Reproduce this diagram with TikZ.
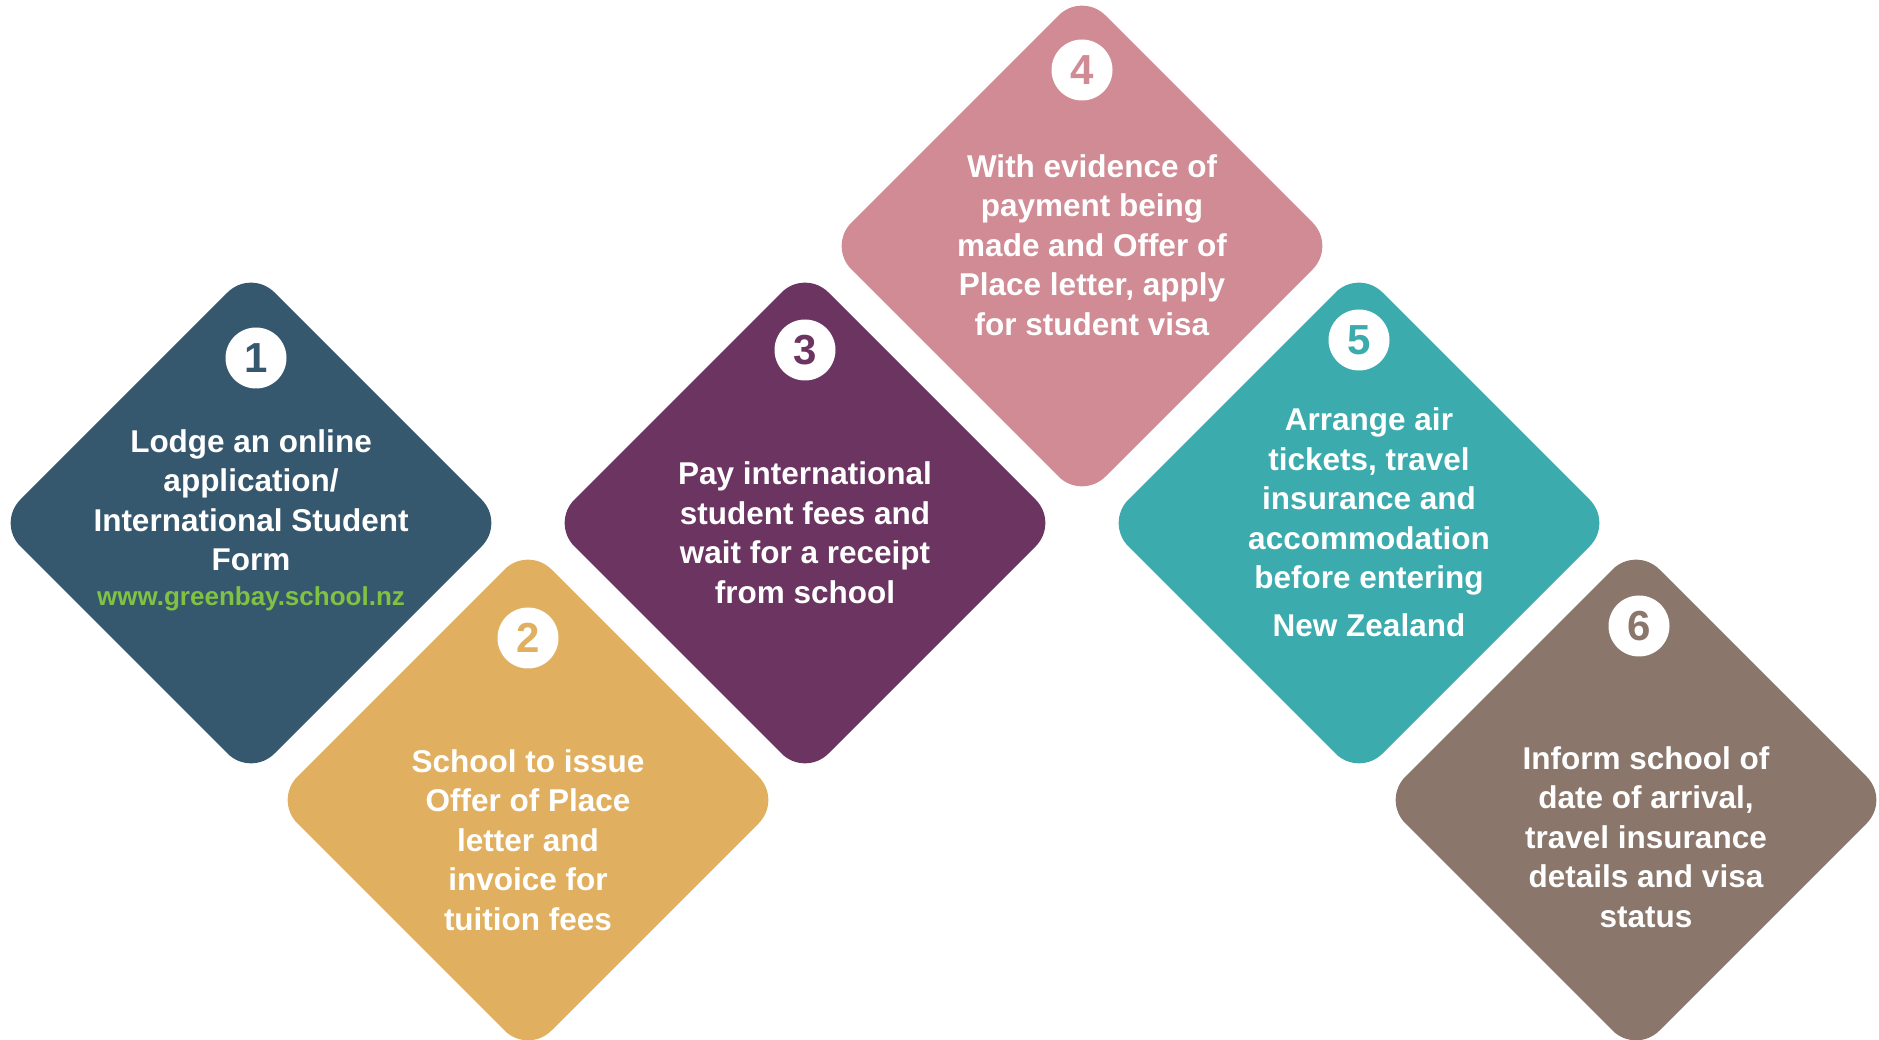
\documentclass[tikz,border=0pt]{standalone}
\usepackage{fontspec}
\setmainfont{Liberation Sans}
\usetikzlibrary{shapes.geometric, positioning}

\definecolor{stepone}{RGB}{54,88,110}
\definecolor{steptwo}{RGB}{224,176,96}
\definecolor{stepthree}{RGB}{107,52,97}
\definecolor{stepfour}{RGB}{208,139,148}
\definecolor{stepfive}{RGB}{59,171,173}
\definecolor{stepsix}{RGB}{138,118,107}
\definecolor{urlgreen}{RGB}{128,194,66}

\begin{document}
\begin{tikzpicture}[x=1pt, y=1pt,
  stepbox/.style={diamond, aspect=1, minimum width=508pt, minimum height=508pt,
    inner sep=0pt, outer sep=0pt, rounded corners=33pt, fill=#1},
  numcircle/.style={circle, fill=white, minimum size=61pt, inner sep=0pt,
    text=#1, font=\fontsize{42}{42}\selectfont\bfseries},
  steptext/.style={align=center, text=white, font=\fontsize{31.5}{39.5}\selectfont\bfseries},
  node distance=277pt and 277pt, on grid]

  \useasboundingbox (0,0) rectangle (1879,1039);

  % the six steps
  \node[stepbox=stepone] (d1) at (251,516) {};
  \node[stepbox=steptwo] (d2) [below right=of d1] {};
  \node[stepbox=stepthree] (d3) [above right=of d2] {};
  \node[stepbox=stepfour] (d4) [above right=of d3] {};
  \node[stepbox=stepfive] (d5) [below right=of d4] {};
  \node[stepbox=stepsix] (d6) [below right=of d5] {};

  % numbers
  \node[numcircle=stepone] (n1) at ([xshift=5pt, yshift=165pt]d1.center) {1};
  \node[numcircle=steptwo] (n2) at ([yshift=162pt]d2.center) {2};
  \node[numcircle=stepthree] (n3) at ([yshift=173pt]d3.center) {3};
  \node[numcircle=stepfour] (n4) at ([yshift=176pt]d4.center) {4};
  \node[numcircle=stepfive] (n5) at ([yshift=183pt]d5.center) {5};
  \node[numcircle=stepsix] (n6) at ([xshift=3pt, yshift=174pt]d6.center) {6};

  % texts
  \node[steptext] (t1) at ([yshift=3pt]d1.center)
    {Lodge an online\\application/\\International Student\\Form\\[-5pt]
     {\fontsize{26}{33}\selectfont\color{urlgreen}www.greenbay.school.nz}};
  \node[steptext] (t2) at ([yshift=-40pt]d2.center)
    {School to issue\\Offer of Place\\letter and\\invoice for\\tuition fees};
  \node[steptext] (t3) at ([yshift=-9.5pt]d3.center)
    {Pay international\\student fees and\\wait for a receipt\\from school};
  \node[steptext] (t4) at ([xshift=10pt, yshift=1pt]d4.center)
    {With evidence of\\payment being\\made and Offer of\\Place letter, apply\\for student visa};
  \node[steptext] (t5) at ([xshift=10pt, yshift=1pt]d5.center)
    {Arrange air\\tickets, travel\\insurance and\\accommodation\\before entering\\[8pt]New Zealand};
  \node[steptext] (t6) at ([xshift=10pt, yshift=-37pt]d6.center)
    {Inform school of\\date of arrival,\\travel insurance\\details and visa\\status};
\end{tikzpicture}
\end{document}
